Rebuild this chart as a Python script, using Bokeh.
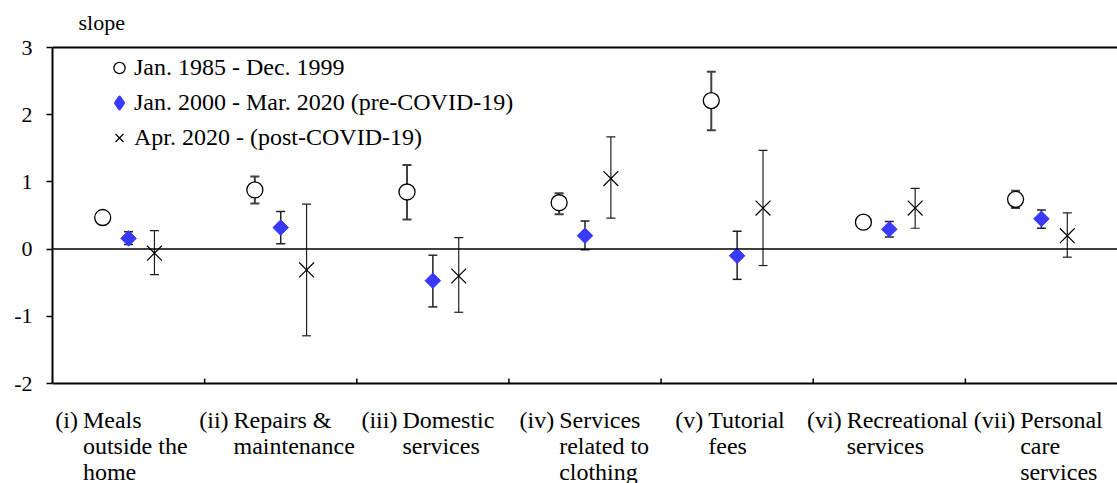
import numpy as np
from bokeh.plotting import figure
from bokeh.models import (ColumnDataSource, Whisker, TeeHead, Span, Legend,
                          LegendItem, FixedTicker, Range1d, NumeralTickFormatter)
from bokeh.core.properties import value
from bokeh.embed import file_html
from bokeh.resources import INLINE

# ---------------- data ----------------
prefixes = ["(i)", "(ii)", "(iii)", "(iv)", "(v)", "(vi)", "(vii)"]
bodies = ["Meals\noutside the\nhome", "Repairs &\nmaintenance", "Domestic\nservices",
          "Services\nrelated to\nclothing", "Tutorial\nfees", "Recreational\nservices",
          "Personal\ncare\nservices"]
series_names = ["Jan. 1985 - Dec. 1999",
                "Jan. 2000 - Mar. 2020 (pre-COVID-19)",
                "Apr. 2020 - (post-COVID-19)"]
y_ticks = [-2, -1, 0, 1, 2, 3]
y_title = "slope"

p1_val = [0.47, 0.88, 0.85, 0.69, 2.21, 0.40, 0.74]
p1_hi = [0.50, 1.08, 1.25, 0.83, 2.64, 0.43, 0.87]
p1_lo = [0.44, 0.68, 0.44, 0.52, 1.77, 0.37, 0.61]

p2_val = [0.16, 0.32, -0.47, 0.20, -0.10, 0.295, 0.45]
p2_hi = [0.26, 0.56, -0.09, 0.42, 0.265, 0.41, 0.58]
p2_lo = [0.07, 0.08, -0.86, -0.01, -0.45, 0.18, 0.31]

p3_val = [-0.06, -0.31, -0.40, 1.05, 0.61, 0.61, 0.20]
p3_hi = [0.275, 0.67, 0.17, 1.67, 1.47, 0.905, 0.54]
p3_lo = [-0.38, -1.29, -0.94, 0.46, -0.245, 0.31, -0.12]

# ---------------- layout / style ----------------
FONT = "Liberation Serif"
FS = "24px"
FS_TICK = "22px"
FS_TITLE = "22px"
DODGE = 0.17
body_offsets = [0.20, 0.19, 0.30, 0.33, 0.31, 0.22, 0.36]
BLUE = "#3939FF"
PX_PER_UNIT = 67.2              # vertical scale of the plotting area
CAT_PX = 1065 / 7               # horizontal pixels per category
TOP_PAD, BOTTOM_PAD = 47, 100   # pixels above 3 and below -2 (text area)

n = len(prefixes)
centers = np.arange(n) + 0.5
ymin, ymax = y_ticks[0], y_ticks[-1]

p = figure(frame_width=1065, frame_height=483,
           x_range=Range1d(0, n),
           y_range=Range1d(ymin - BOTTOM_PAD / PX_PER_UNIT, ymax + TOP_PAD / PX_PER_UNIT),
           output_backend="svg", toolbar_location=None, x_axis_location=None,
           min_border_left=52, min_border_top=0, min_border_bottom=0, min_border_right=0)
p.outline_line_color = None
p.grid.visible = False
p.background_fill_color = "white"
p.border_fill_color = "white"

ya = p.yaxis[0]
ya.bounds = (ymin, ymax)
ya.ticker = FixedTicker(ticks=y_ticks)
ya.formatter = NumeralTickFormatter(format="0")
ya.major_tick_out = 6
ya.major_tick_in = 0
ya.major_tick_line_width = 1.5
ya.major_tick_line_color = "black"
ya.minor_tick_line_color = None
ya.axis_line_width = 2
ya.axis_line_color = "black"
ya.major_label_text_font = FONT
ya.major_label_text_font_size = FS_TICK
ya.major_label_text_color = "black"
ya.major_label_standoff = 14

# frame lines: bottom (x axis), top, zero
p.add_layout(Span(location=ymin, dimension="width", line_color="black", line_width=2))
p.add_layout(Span(location=ymax, dimension="width", line_color="black", line_width=2))
p.add_layout(Span(location=0, dimension="width", line_color="black", line_width=1.5))

# category separator ticks on the x axis (pointing inward, 5px)
seps = list(range(1, n))
p.segment(x0=seps, x1=seps, y0=[ymin] * len(seps), y1=[ymin + 5 / PX_PER_UNIT] * len(seps),
          line_color="black", line_width=1.5)

src1 = ColumnDataSource(dict(x=centers - DODGE, y=p1_val, hi=p1_hi, lo=p1_lo))
src2 = ColumnDataSource(dict(x=centers, y=p2_val, hi=p2_hi, lo=p2_lo))
src3 = ColumnDataSource(dict(x=centers + DODGE, y=p3_val, hi=p3_hi, lo=p3_lo))

for src, col, lw in [(src1, "#404040", 2), (src2, "#202020", 1.5), (src3, "#202020", 1.2)]:
    p.add_layout(Whisker(source=src, base="x", upper="hi", lower="lo", dimension="height",
                         line_color=col, line_width=lw,
                         upper_head=TeeHead(size=9, line_color=col, line_width=lw),
                         lower_head=TeeHead(size=9, line_color=col, line_width=lw)))

r1 = p.scatter("x", "y", source=src1, marker="circle", size=16, fill_color="white",
               line_color="black", line_width=1.3)
r2 = p.scatter("x", "y", source=src2, marker="square", angle=np.pi / 4, size=11,
               fill_color=BLUE, line_color=BLUE)
r2_leg = p.scatter("x", "y", source=src2, marker="diamond", fill_color=BLUE,
                   line_color=BLUE, line_width=3.5, line_join="round", visible=False)
r3 = p.scatter("x", "y", source=src3, marker="x", size=21, line_color="black", line_width=1.2)

legend = Legend(items=[LegendItem(label=series_names[0], renderers=[r1]),
                       LegendItem(label=series_names[1], renderers=[r2_leg]),
                       LegendItem(label=series_names[2], renderers=[r3])],
                location=(53, 328.5), glyph_width=28, glyph_height=35, label_height=35,
                label_standoff=1, spacing=0, padding=0, margin=0,
                border_line_color=None, background_fill_alpha=0,
                label_text_font=FONT, label_text_font_size=FS, label_text_color="black")
p.add_layout(legend)

# category labels (hanging indent: prefix right-aligned before the body block)
label_top = ymin - 23 / PX_PER_UNIT
lab_src = ColumnDataSource(dict(x=[i + body_offsets[i] for i in range(n)],
                                y=[label_top] * n, body=bodies, pre=prefixes))
p.text("x", "y", text="body", source=lab_src, text_align="left", text_baseline="top",
       text_font=value(FONT), text_font_size=value(FS), text_color="black",
       text_line_height=1.0)
p.text("x", "y", text="pre", source=lab_src, x_offset=-5, text_align="right",
       text_baseline="top", text_font=value(FONT), text_font_size=value(FS),
       text_color="black")

# y title above the axis
p.text(x=[26 / CAT_PX], y=[ymax + 25 / PX_PER_UNIT], text=[y_title], text_align="left",
       text_baseline="alphabetic", text_font=value(FONT), text_font_size=value(FS_TITLE),
       text_color="black")

open("out.html", "w").write(file_html(p, INLINE))
